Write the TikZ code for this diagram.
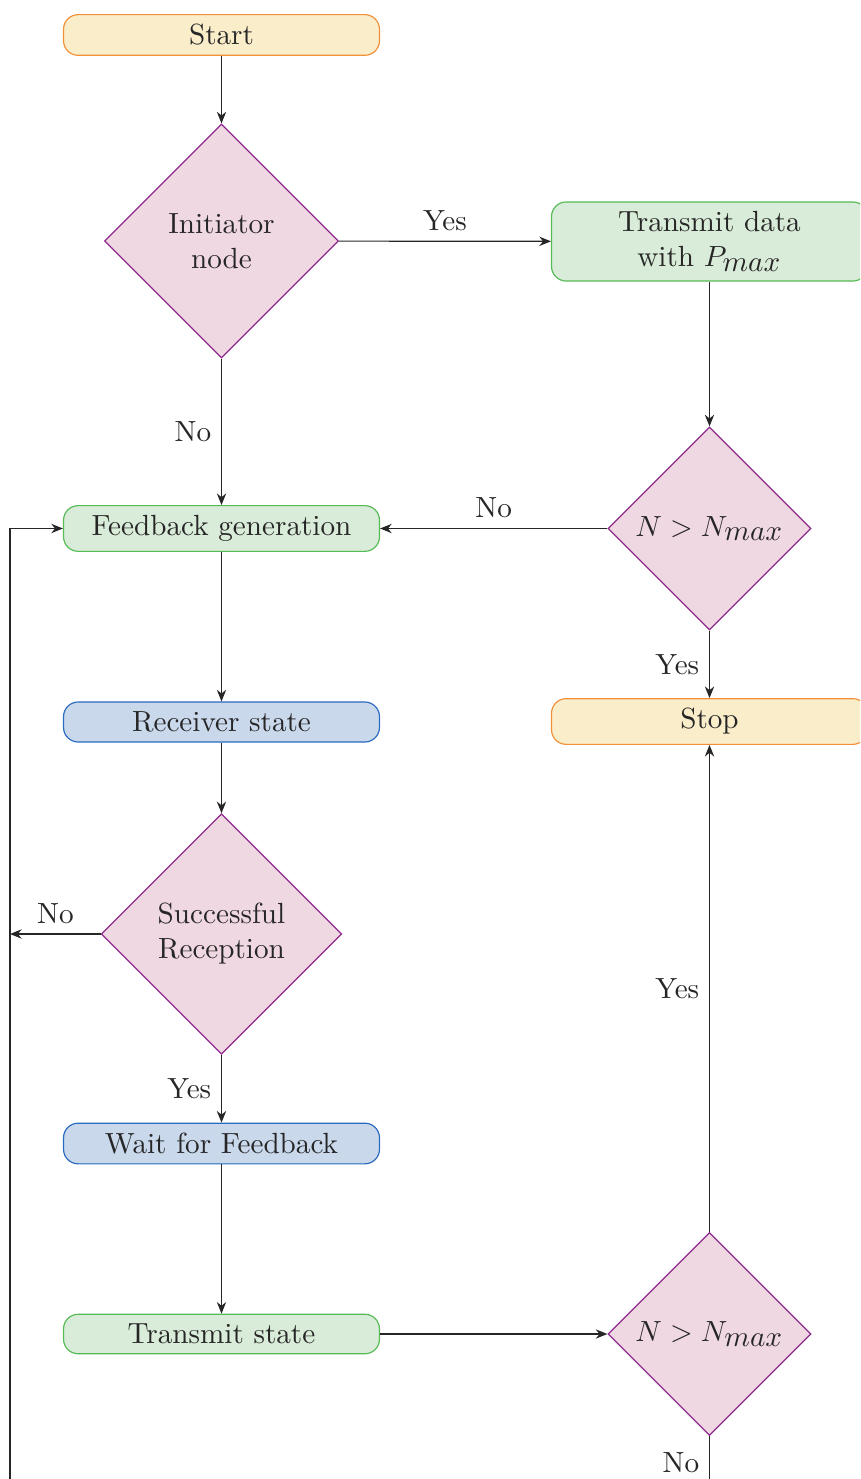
\documentclass[tikz,border=0pt]{standalone}
\usetikzlibrary{shapes.geometric,arrows.meta}
\definecolor{termfill}{RGB}{250,237,202}
\definecolor{termdraw}{RGB}{240,145,58}
\definecolor{procfill}{RGB}{217,235,217}
\definecolor{procdraw}{RGB}{85,187,85}
\definecolor{iofill}{RGB}{202,216,236}
\definecolor{iodraw}{RGB}{42,106,192}
\definecolor{decfill}{RGB}{240,216,226}
\definecolor{decdraw}{RGB}{142,42,142}
\newcommand{\mx}{_{\textstyle max}}
\tikzset{
  box/.style={rectangle, rounded corners=5pt, minimum width=108.3pt, align=center, text=black!85},
  terminal/.style={box, fill=termfill, draw=termdraw},
  process/.style={box, fill=procfill, draw=procdraw},
  state/.style={box, fill=iofill, draw=iodraw},
  decision/.style={diamond, aspect=1, inner sep=0pt, align=center, fill=decfill, draw=decdraw, text=black!85},
  flow/.style={draw=black!85, -{Stealth[length=4pt,width=3.2pt]}},
  lbl/.style={text=black!85}
}
\begin{document}
\begin{tikzpicture}[x=0.3428pt, y=-0.3428pt]
\useasboundingbox (0,0) rectangle (860,1479);
\clip (0,0) rectangle (860,1479);

\node[terminal] (start) at (221.5,35) {Start};
\node[decision, minimum size=80.2pt] (init) at (221.5,241) {Initiator\\node};
\node[process] (txdata) at (709.5,241.5) {Transmit data\\with $P\mx$};
\node[decision, minimum size=69.6pt] (chk1) at (709.5,528.5) {$N > N\mx$};
\node[process] (fbgen) at (221.5,528.5) {Feedback generation};
\node[terminal] (stop) at (709.5,721.5) {Stop};
\node[state] (recv) at (221.5,722) {Receiver state};
\node[decision, minimum size=82.4pt] (succ) at (221.5,934) {Successful\\Reception};
\node[state] (wait) at (221.5,1143.5) {Wait for Feedback};
\node[process] (txstate) at (221.5,1334) {Transmit state};
\node[decision, minimum size=69.6pt] (chk2) at (709.5,1334) {$N > N\mx$};

\coordinate (loopin) at (10,528.5);
\coordinate (loopmid) at (10,934);
\coordinate (loopbot) at (10,1489);

\draw[flow] (start) -- (init);
\draw[flow] (init) -- node[lbl, midway, above] {Yes} (txdata);
\draw[flow] (init) -- node[lbl, midway, left] {No} (fbgen);
\draw[flow] (txdata) -- (chk1);
\draw[flow] (chk1) -- node[lbl, midway, above] {No} (fbgen);
\draw[flow] (chk1) -- node[lbl, midway, left] {Yes} (stop);
\draw[flow] (fbgen) -- (recv);
\draw[flow] (recv) -- (succ);
\draw[flow] (succ) -- node[lbl, midway, above] {No} (loopmid);
\draw[flow] (succ) -- node[lbl, midway, left] {Yes} (wait);
\draw[flow] (wait) -- (txstate);
\draw[flow] (txstate) -- (chk2);
\draw[flow] (chk2) -- node[lbl, midway, left] {Yes} (stop);
\draw[flow] (chk2.south) -- node[lbl, midway, left] {No} ++(0,54) -| (loopbot) -- (loopin) -- (fbgen);
\end{tikzpicture}
\end{document}
